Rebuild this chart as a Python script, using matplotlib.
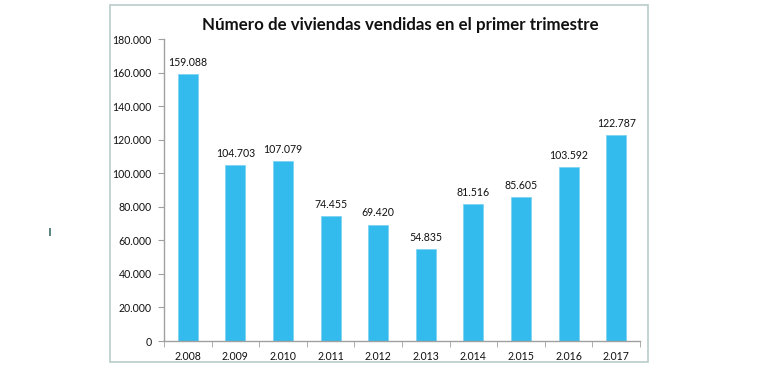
import matplotlib
matplotlib.use("Agg")
import matplotlib.pyplot as plt
from matplotlib.patches import Rectangle

years = ["2.008", "2.009", "2.010", "2.011", "2.012", "2.013", "2.014", "2.015", "2.016", "2.017"]
values = [159088, 104703, 107079, 74455, 69420, 54835, 81516, 85605, 103592, 122787]
title = "Número de viviendas vendidas en el primer trimestre"

def fmt(v):
    return f"{v:,}".replace(",", ".")

plt.rcParams['font.family'] = ['Lato', 'DejaVu Sans']

W, H = 770, 373
fig = plt.figure(figsize=(W/100, H/100), dpi=100)
fig.patch.set_facecolor("white")

# outer frame
fig.add_artist(Rectangle((110/W, 1 - 362/H), (648-110)/W, (362-5)/H,
                         transform=fig.transFigure, fill=False,
                         edgecolor="#b9cccb", linewidth=1.2))
# small mark on left
fig.add_artist(Rectangle((49/W, 1 - 236/H), 2/W, 8/H, transform=fig.transFigure,
                         facecolor="#5f8585", edgecolor="none"))

ax = fig.add_axes([164/W, 1 - 341/H, (640-164)/W, (341-39)/H])
x = list(range(len(years)))
ax.bar(x, values, width=0.42, color="#33bbee", edgecolor="#7fd3f3", linewidth=0.6, zorder=2)
ax.set_xlim(-0.5, len(years) - 0.5)
ax.set_ylim(0, 180000)
ax.set_yticks(range(0, 180001, 20000))
ax.set_yticklabels([fmt(v) for v in range(0, 180001, 20000)], fontsize=7.6, color="#111111")
ax.set_xticks(x)
ax.set_xticklabels(years, fontsize=7.6, color="#111111")
ax.set_xticks([i - 0.5 for i in range(len(years) + 1)], minor=True)
ax.tick_params(axis="x", which="major", length=0, pad=7)
ax.tick_params(axis="x", which="minor", length=4, color="#a0a0a0")
ax.tick_params(axis="y", length=4, color="#a0a0a0", pad=5)
for s in ["top", "right"]:
    ax.spines[s].set_visible(False)
for s in ["left", "bottom"]:
    ax.spines[s].set_color("#a0a0a0")
    ax.spines[s].set_linewidth(1.0)

for xi, v in zip(x, values):
    ax.annotate(fmt(v), (xi, v), xytext=(0, 4.5), textcoords="offset points",
                ha="center", va="bottom", fontsize=7.6, color="#111111")

fig.text(400/W, 1 - 25/H, title, ha="center", va="center", fontsize=12.2,
         fontweight="bold", color="#111111")

fig.savefig("out.png", dpi=100)
